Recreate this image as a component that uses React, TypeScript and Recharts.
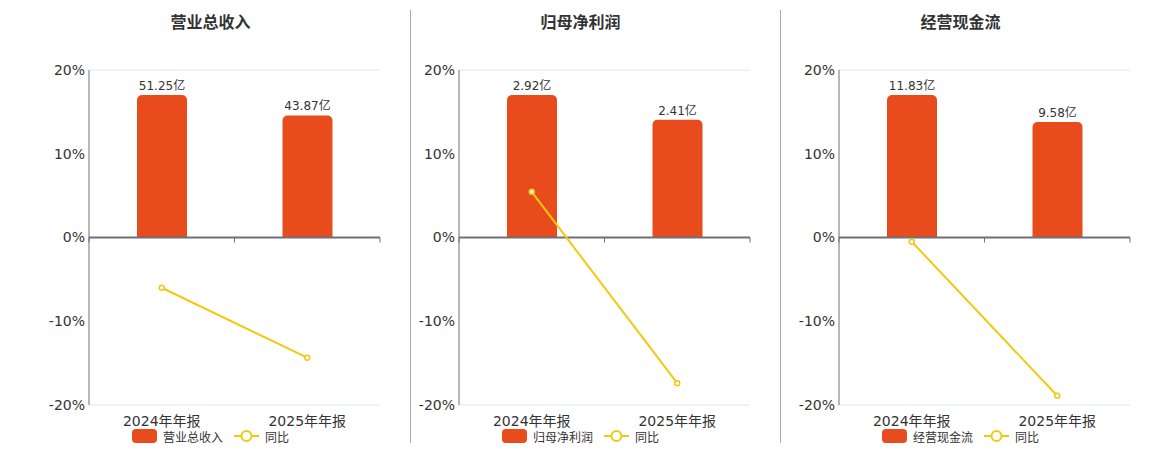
import React from 'react';
import { ComposedChart, Bar, Line, XAxis, YAxis, CartesianGrid, ReferenceLine, LabelList } from 'recharts';

const categories = ['2024年年报', '2025年年报'];
const titles = ['营业总收入', '归母净利润', '经营现金流'];
const revenue = [51.25, 43.87];
const netProfit = [2.92, 2.41];
const cashFlow = [11.83, 9.58];
const revenueYoy = [-6.0, -14.35];
const netProfitYoy = [5.45, -17.4];
const cashFlowYoy = [-0.5, -18.9];
const yTicks = [-20, -10, 0, 10, 20];
const yoyName = '同比';

const series = [
  { title: titles[0], values: revenue, yoy: revenueYoy },
  { title: titles[1], values: netProfit, yoy: netProfitYoy },
  { title: titles[2], values: cashFlow, yoy: cashFlowYoy },
];

const PLOT_LEFTS = [89, 459, 839];
const SEPARATORS = [410.5, 780.5];
const AXIS_W = 60;
const PLOT_W = 291;
const FONT = '"DejaVu Sans", Verdana, "Noto Sans CJK SC", sans-serif';
const BAR_COLOR = '#E84C1C';
const LINE_COLOR = '#F2C811';
const AXIS_COLOR = '#6E7079';

const ZeroLine = (props: any) => {
  const { x1, x2, y1 } = props;
  const mid = (x1 + x2) / 2;
  return (
    <g>
      <line x1={x1} y1={y1} x2={x2} y2={y1} stroke={AXIS_COLOR} strokeWidth={2} />
      {[x1, mid, x2].map((x, i) => (
        <line key={i} x1={x} y1={y1} x2={x} y2={y1 + 5} stroke={AXIS_COLOR} strokeWidth={1} />
      ))}
    </g>
  );
};

function Panel({ idx }: { idx: number }) {
  const s = series[idx];
  const data = categories.map((c, i) => ({ name: c, value: s.values[i], yoy: s.yoy[i] }));
  const maxV = Math.max(...s.values) / 0.851;
  const pl = PLOT_LEFTS[idx];
  return (
    <div style={{ position: 'absolute', left: pl - AXIS_W, top: 0 }}>
      <ComposedChart
        width={AXIS_W + PLOT_W + 10}
        height={450}
        data={data}
        margin={{ top: 70, right: 10, bottom: 15, left: 0 }}
      >
        <CartesianGrid vertical={false} stroke="#E0E6F1" />
        <XAxis
          dataKey="name"
          axisLine={false}
          tickLine={false}
          height={30}
          tickSize={6}
          tickMargin={5}
          tick={{ fill: '#333', fontSize: 14, fontFamily: FONT }}
          interval={0}
        />
        <YAxis
          yAxisId="left"
          domain={[-20, 20]}
          ticks={yTicks}
          width={AXIS_W}
          tickLine={false}
          tickSize={2}
          tickMargin={2}
          axisLine={{ stroke: AXIS_COLOR }}
          tickFormatter={(v: number) => `${v}%`}
          tick={{ fill: '#333', fontSize: 14, fontFamily: FONT }}
          allowDataOverflow
        />
        <YAxis yAxisId="right" orientation="right" hide domain={[-maxV, maxV]} allowDataOverflow />
        <Bar
          yAxisId="right"
          dataKey="value"
          fill={BAR_COLOR}
          barSize={50}
          radius={[5, 5, 0, 0]}
          isAnimationActive={false}
        >
          <LabelList
            dataKey="value"
            position="top"
            offset={5}
            formatter={(v: any) => `${v}亿`}
            style={{ fill: '#333', fontSize: 12, fontFamily: FONT }}
          />
        </Bar>
        <ReferenceLine yAxisId="left" y={0} shape={ZeroLine} />
        <Line
          yAxisId="left"
          dataKey="yoy"
          stroke={LINE_COLOR}
          strokeWidth={2}
          dot={{ r: 2.5, fill: '#fff', stroke: LINE_COLOR, strokeWidth: 1.5 }}
          isAnimationActive={false}
        />
      </ComposedChart>
    </div>
  );
}

function Title({ idx }: { idx: number }) {
  const cx = PLOT_LEFTS[idx] + 121.5;
  return (
    <div
      style={{
        position: 'absolute',
        left: cx - 100,
        width: 200,
        top: 12,
        textAlign: 'center',
        fontSize: 16,
        fontWeight: 'bold',
        color: '#333',
        lineHeight: '22px',
        fontFamily: FONT,
      }}
    >
      {series[idx].title}
    </div>
  );
}

function LegendRow({ idx }: { idx: number }) {
  const cx = PLOT_LEFTS[idx] + 121.5;
  return (
    <div
      style={{
        position: 'absolute',
        left: cx - 120,
        width: 240,
        top: 428,
        height: 16,
        display: 'flex',
        justifyContent: 'center',
        alignItems: 'center',
        fontSize: 12,
        color: '#333',
        fontFamily: FONT,
      }}
    >
      <span style={{ display: 'inline-block', width: 25, height: 14, borderRadius: 4, background: BAR_COLOR }} />
      <span style={{ marginLeft: 6 }}>{series[idx].title}</span>
      <svg width={25} height={14} style={{ marginLeft: 11 }}>
        <line x1={0} y1={7} x2={25} y2={7} stroke={LINE_COLOR} strokeWidth={2} />
        <circle cx={12.5} cy={7} r={5} fill="#fff" stroke={LINE_COLOR} strokeWidth={2} />
      </svg>
      <span style={{ marginLeft: 6 }}>{yoyName}</span>
    </div>
  );
}

export default function App() {
  return (
    <div style={{ position: 'absolute', left: 0, top: 0, width: 1160, height: 450, background: '#fff', fontFamily: FONT }}>
      {series.map((_, i) => (
        <React.Fragment key={i}>
          <Panel idx={i} />
          <Title idx={i} />
          <LegendRow idx={i} />
        </React.Fragment>
      ))}
      {SEPARATORS.map((x, i) => (
        <div key={i} style={{ position: 'absolute', left: x - 0.5, top: 10, width: 1, height: 433, background: '#AAAAAA' }} />
      ))}
    </div>
  );
}
